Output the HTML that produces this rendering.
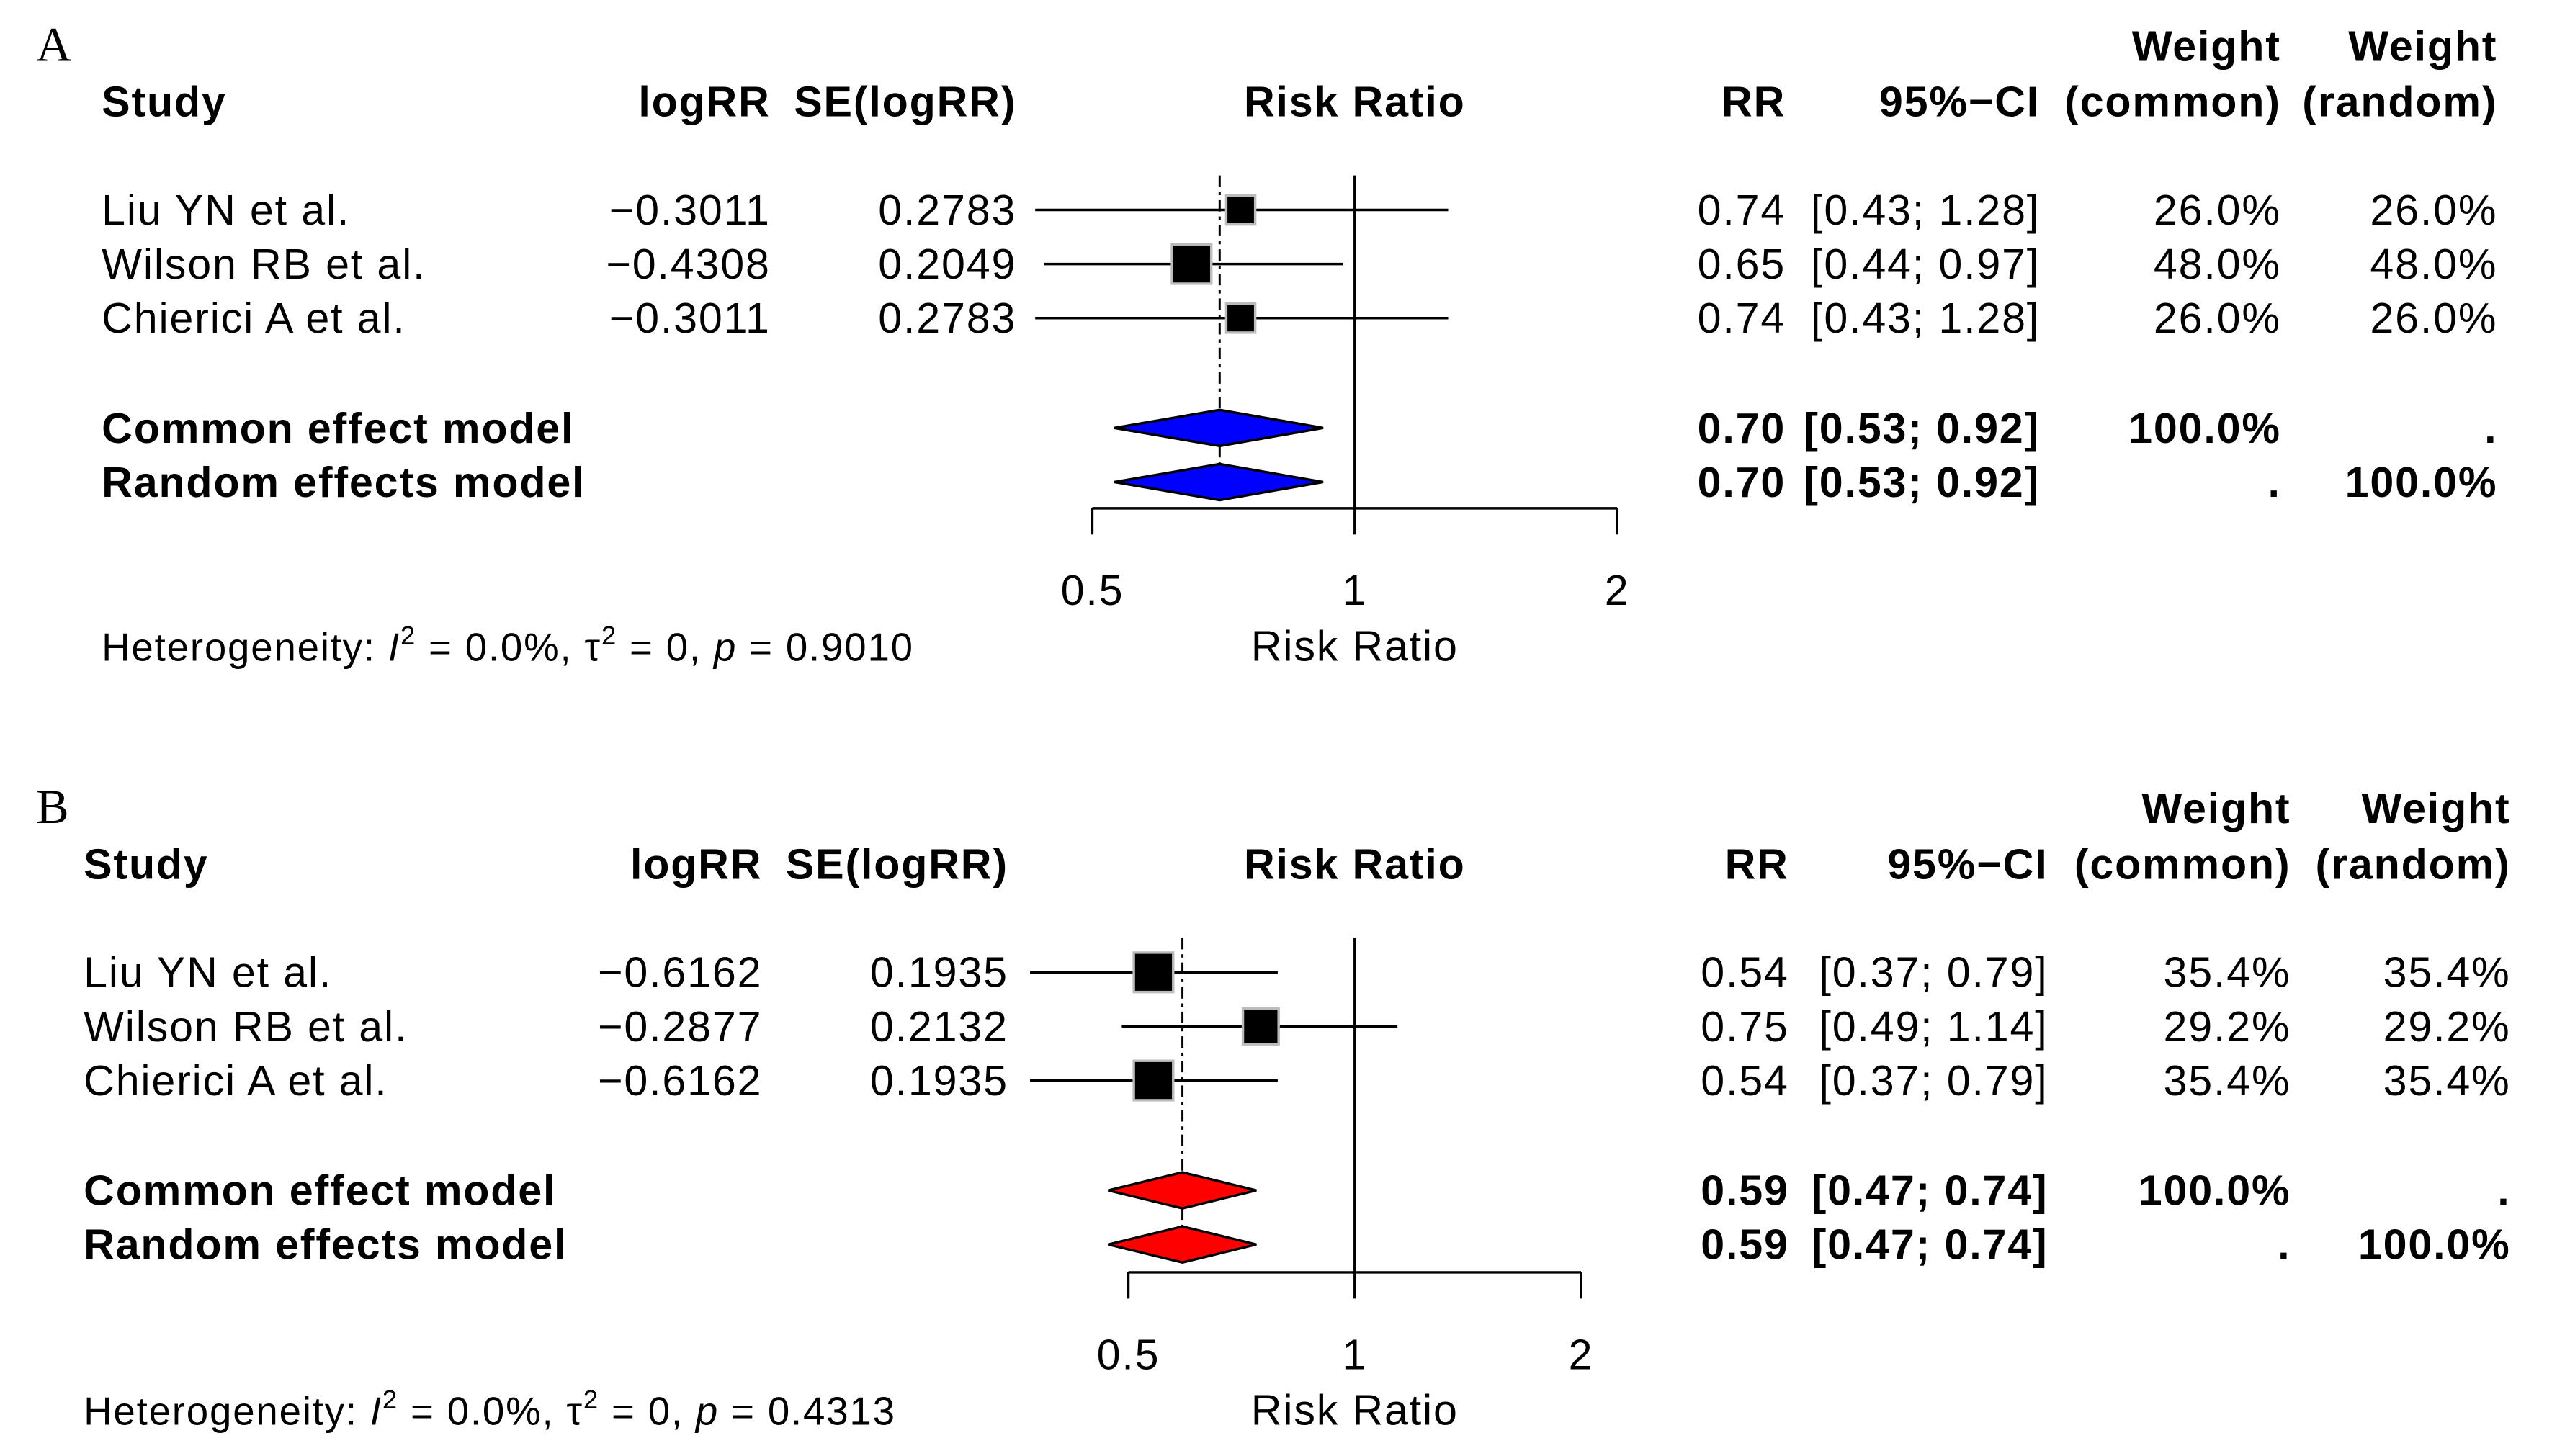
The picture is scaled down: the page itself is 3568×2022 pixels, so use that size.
<!DOCTYPE html>
<html><head><meta charset="utf-8"><style>
html,body{margin:0;padding:0;background:#fff;}
svg{display:block;}
text{font-family:"Liberation Sans",Arial,sans-serif;font-size:26px;letter-spacing:0.8px;fill:#000;}
.b{font-weight:bold;}
</style></head><body>
<svg id="chart" width="3568" height="2022" viewBox="0 0 1567 888" xmlns="http://www.w3.org/2000/svg"></svg>
<script>
const studies = ["Liu YN et al.", "Wilson RB et al.", "Chierici A et al."];
const logRR_A = ["\u22120.3011", "\u22120.4308", "\u22120.3011"];
const se_A = ["0.2783", "0.2049", "0.2783"];
const rr_A = [0.74, 0.65, 0.74];
const lo_A = [0.43, 0.44, 0.43];
const hi_A = [1.28, 0.97, 1.28];
const w_A = [26.0, 48.0, 26.0];
const pooled_A = [0.70, 0.53, 0.92];
const het_A = "0.9010";

const logRR_B = ["\u22120.6162", "\u22120.2877", "\u22120.6162"];
const se_B = ["0.1935", "0.2132", "0.1935"];
const rr_B = [0.54, 0.75, 0.54];
const lo_B = [0.37, 0.49, 0.37];
const hi_B = [0.79, 1.14, 0.79];
const w_B = [35.4, 29.2, 35.4];
const pooled_B = [0.59, 0.47, 0.74];
const het_B = "0.4313";

const ticks = [0.5, 1, 2];
const tickLabels = ["0.5", "1", "2"];

const svg = document.getElementById('chart');
const NS = "http://www.w3.org/2000/svg";
function el(tag, attrs, parent){const e=document.createElementNS(NS,tag);for(const k in attrs)e.setAttribute(k,attrs[k]);(parent||svg).appendChild(e);return e;}
function txt(x,y,s,anchor,cls,parent){const t=el('text',{x:anchor==='end'?x+0.8:x,y:y,'text-anchor':anchor||'start'},parent);if(cls)t.setAttribute('class',cls);t.textContent=s;return t;}
function f2(v){return v.toFixed(2);}

function panel(cfg){
  const g=el('g',{});
  
  
  const X = rr => cfg.cx + cfg.unit*Math.log2(rr);
  const lt=el('text',{x:cfg.letterX,y:cfg.top},g);
  lt.setAttribute('style','font-family:"Liberation Serif",serif;font-size:30px;letter-spacing:0');
  lt.textContent=cfg.letter;
  
  
  const c=cfg.cols;
  const h1=cfg.top, h2=cfg.top+34;
  txt(c.wc,h1,"Weight","end","b",g);
  txt(c.wr,h1,"Weight","end","b",g);
  const hs=[[c.study,"Study","start"],[c.logrr,"logRR","end"],[c.se,"SE(logRR)","end"],[cfg.cx,"Risk Ratio","middle"],[c.rr,"RR","end"],[c.ci,"95%\u2212CI","end"],[c.wc,"(common)","end"],[c.wr,"(random)","end"]];
  hs.forEach(h=>{const t=txt(h[0],h2,h[1],h[2],"b",g);});
  const rowY=[cfg.top+91,cfg.top+124,cfg.top+157];
  const wmax=Math.max(...cfg.w);
  const ref=el('line',{x1:X(1),x2:X(1),y1:rowY[0]-21,y2:cfg.axisY,stroke:'#000','stroke-width':1.5},g);
  
  
  const pl=el('line',{x1:X(cfg.pooled[0]),x2:X(cfg.pooled[0]),y1:rowY[0]-21,y2:cfg.axisY-6,stroke:'#000','stroke-width':1.3,'stroke-dasharray':'7,3,2,3'},g);
  
  
  studies.forEach((s,i)=>{
    const y=rowY[i];
    const tb=y+9;
    txt(c.study,tb,s,"start","",g);
    txt(c.logrr,tb,cfg.logrr[i],"end","",g);
    txt(c.se,tb,cfg.se[i],"end","",g);
    txt(c.rr,tb,f2(cfg.rr[i]),"end","",g);
    txt(c.ci,tb,"["+f2(cfg.lo[i])+"; "+f2(cfg.hi[i])+"]","end","",g);
    txt(c.wc,tb,cfg.w[i].toFixed(1)+"%","end","",g);
    txt(c.wr,tb,cfg.w[i].toFixed(1)+"%","end","",g);
    const ci=el('line',{x1:X(cfg.lo[i]),x2:X(cfg.hi[i]),y1:y,y2:y,stroke:'#000','stroke-width':1.5},g);
    
    
    const side=cfg.maxSide*Math.sqrt(cfg.w[i]/wmax);
    const sq=el('rect',{x:X(cfg.rr[i])-side/2,y:y-side/2,width:side,height:side,fill:'#000',stroke:'#bbb','stroke-width':1.5},g);
    
    
  });
  const models=[["Common effect model",cfg.top+224,"100.0%","."],["Random effects model",cfg.top+257,".","100.0%"]];
  models.forEach(m=>{
    const y=m[1], tb=y+9;
    txt(c.study,tb,m[0],"start","b",g);
    txt(c.rr,tb,f2(cfg.pooled[0]),"end","b",g);
    txt(c.ci,tb,"["+f2(cfg.pooled[1])+"; "+f2(cfg.pooled[2])+"]","end","b",g);
    txt(c.wc,tb,m[2],"end","b",g);
    txt(c.wr,tb,m[3],"end","b",g);
    const p=X(cfg.pooled[0]),l=X(cfg.pooled[1]),r=X(cfg.pooled[2]);
    const d=el('polygon',{points:`${l},${y} ${p},${y-11} ${r},${y} ${p},${y+11}`,fill:cfg.color,stroke:'#000','stroke-width':1.5},g);
    
    
  });
  const ax=el('line',{x1:X(ticks[0]),x2:X(ticks[ticks.length-1]),y1:cfg.axisY,y2:cfg.axisY,stroke:'#000','stroke-width':1.5},g);
  
  
  ticks.forEach((t,i)=>{
    el('line',{x1:X(t),x2:X(t),y1:cfg.axisY,y2:cfg.axisY+16,stroke:'#000','stroke-width':1.5},g);
    const tl=txt(X(t),cfg.axisY+59,tickLabels[i],"middle","",g);
    
    
  });
  const at=txt(cfg.cx,cfg.axisY+93,"Risk Ratio","middle","",g);
  
  
  const ht=el('text',{x:c.study,y:cfg.axisY+93},g);
  ht.setAttribute('style','font-size:24px');
  
  
  ht.innerHTML='Heterogeneity: <tspan font-style="italic">I</tspan><tspan dy="-10" style="font-size:16px">2</tspan><tspan dy="10"> = 0.0%, \u03C4</tspan><tspan dy="-10" style="font-size:16px">2</tspan><tspan dy="10"> = 0, </tspan><tspan font-style="italic">p</tspan> = '+cfg.het;
}

panel({letter:"A",letterX:22,top:37,cx:826,unit:160,axisY:310,maxSide:24,color:'#0000ff',
  cols:{study:62,logrr:469,se:619,rr:1088,ci:1243,wc:1390,wr:1522},
  logrr:logRR_A,se:se_A,rr:rr_A,lo:lo_A,hi:hi_A,w:w_A,pooled:pooled_A,het:het_A});
panel({letter:"B",letterX:22,top:502,cx:826,unit:138,axisY:776,maxSide:24,color:'#ff0000',
  cols:{study:51,logrr:464,se:614,rr:1090,ci:1248,wc:1396,wr:1530},
  logrr:logRR_B,se:se_B,rr:rr_B,lo:lo_B,hi:hi_B,w:w_B,pooled:pooled_B,het:het_B});
</script>
</body></html>
